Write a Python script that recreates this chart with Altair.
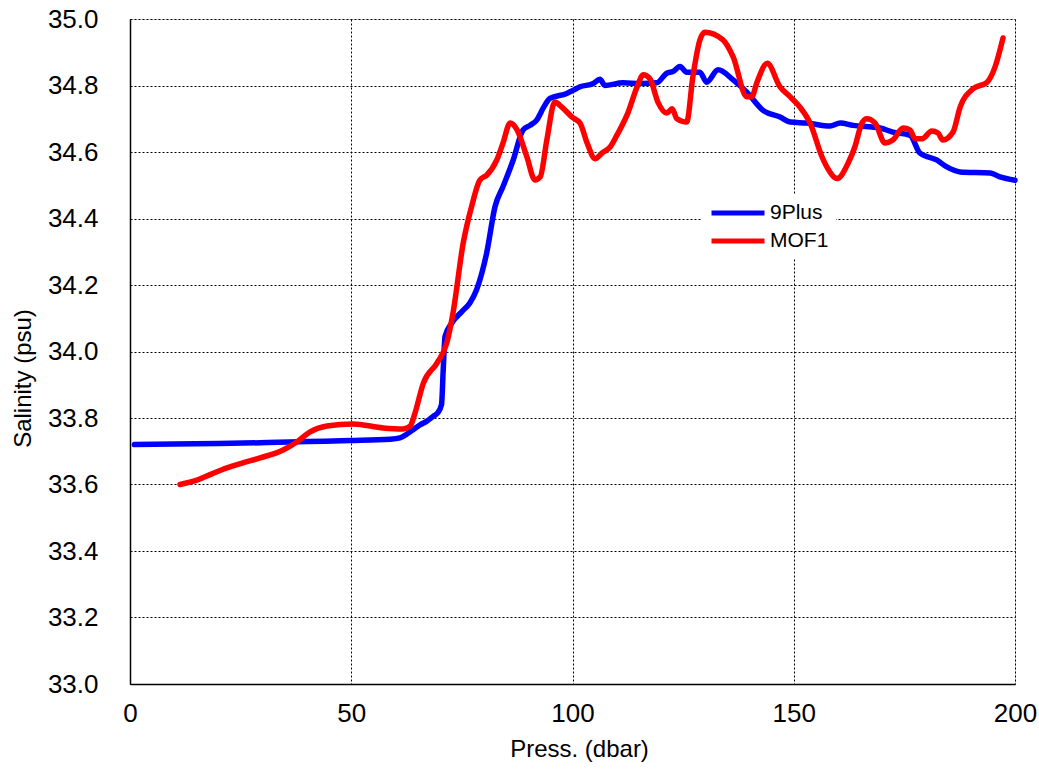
import altair as alt
import pandas as pd

# 9Plus salinity profile
plus_press = [1, 10, 20, 31, 40, 49.7, 58.8, 61, 62.6, 64, 65.5, 67, 68.5, 69.5, 70.4, 70.8, 71.2,
              72.7, 75, 76.8, 78.3, 80.6, 82.5, 84.3, 86.6, 88.8, 90.4, 91.9, 93.5, 94.9, 98.7,
              100.2, 101.7, 104.7, 106.2, 107.3, 111.4, 115.4, 119, 121.3, 122.7, 124.3, 125.8,
              128.8, 130.3, 132.9, 136.3, 139.4, 143, 146.9, 149.2, 153, 158.2, 160.5, 163.4,
              169.5, 172.4, 176.3, 178.5, 182.3, 184.6, 187.6, 194.4, 196.6, 200]
plus_sal = [33.72, 33.722, 33.723, 33.726, 33.729, 33.732, 33.736, 33.74, 33.752, 33.765, 33.779,
            33.79, 33.805, 33.815, 33.84, 33.95, 34.045, 34.085, 34.12, 34.146, 34.185, 34.296,
            34.436, 34.496, 34.576, 34.666, 34.68, 34.696, 34.735, 34.761, 34.776, 34.786, 34.796,
            34.806, 34.819, 34.80, 34.808, 34.806, 34.808, 34.837, 34.842, 34.857, 34.84, 34.84,
            34.81, 34.847, 34.817, 34.78, 34.726, 34.705, 34.69, 34.687, 34.678, 34.687, 34.68,
            34.672, 34.66, 34.65, 34.597, 34.576, 34.555, 34.54, 34.537, 34.525, 34.515]

# MOF1 salinity profile
mof_press = [11.3, 15.1, 18.5, 21.9, 25.5, 29.4, 34.6, 37.7, 40.7, 44.5, 50.4, 57.2, 61.7, 63.3,
             64.3, 66.3, 69.4, 71.6, 73, 75.3, 77.2, 79.1, 80.6, 82.9, 84.3, 85.9, 87.5, 89.7,
             91.5, 92.7, 94.2, 96, 97.6, 99.9, 101.7, 103.3, 105.1, 106.7, 108.5, 110, 112.5,
             114.6, 116, 117.5, 119.3, 121.3, 122.5, 123.6, 125.8, 127.2, 128.8, 129.9, 134,
             136.3, 139.4, 140.5, 141.7, 144, 146.9, 149.2, 151.4, 153.7, 156.4, 157.7, 159.8,
             162.3, 163.8, 165.4, 166.5, 168.4, 170.6, 172.4, 174.7, 176.3, 177.4, 179, 181.2,
             182.6, 183.7, 186, 187.6, 190.5, 193.7, 195.5, 197.3]
mof_sal = [33.60, 33.613, 33.632, 33.65, 33.665, 33.68, 33.704, 33.728, 33.758, 33.776, 33.782,
           33.77, 33.767, 33.775, 33.81, 33.905, 33.966, 34.026, 34.116, 34.326, 34.436, 34.516,
           34.53, 34.576, 34.627, 34.687, 34.666, 34.585, 34.516, 34.525, 34.636, 34.75, 34.735,
           34.705, 34.687, 34.627, 34.58, 34.597, 34.615, 34.65, 34.717, 34.796, 34.832, 34.82,
           34.75, 34.717, 34.73, 34.70, 34.69, 34.826, 34.937, 34.96, 34.937, 34.886, 34.766,
           34.766, 34.81, 34.867, 34.796, 34.766, 34.735, 34.687, 34.585, 34.55, 34.52, 34.567,
           34.615, 34.687, 34.70, 34.687, 34.627, 34.636, 34.672, 34.666, 34.64, 34.64, 34.663,
           34.657, 34.636, 34.66, 34.735, 34.79, 34.81, 34.856, 34.943]

series_names = ["9Plus", "MOF1"]
series_colors = ["#0000FF", "#FF0000"]
x_ticks = [0, 50, 100, 150, 200]
y_ticks = [33.0, 33.2, 33.4, 33.6, 33.8, 34.0, 34.2, 34.4, 34.6, 34.8, 35.0]

df = pd.concat([
    pd.DataFrame({"press": plus_press, "sal": plus_sal, "series": series_names[0]}),
    pd.DataFrame({"press": mof_press, "sal": mof_sal, "series": series_names[1]}),
])

FONT = "Liberation Sans"

common_axis = dict(
    grid=True, gridColor="#000000", gridDash=[2, 2], gridWidth=1, gridOpacity=1,
    ticks=False, tickSize=0, domainColor="#000000", domainWidth=1.5,
    labelColor="#000000", titleColor="#000000", labelFont=FONT, titleFont=FONT,
    titleFontWeight="normal", labelFontSize=26, titleFontSize=24, labelFlush=False,
)

chart = alt.Chart(df).mark_line(strokeWidth=5.5, strokeCap="round", strokeJoin="round",
                                interpolate="monotone").encode(
    x=alt.X("press:Q",
            scale=alt.Scale(domain=[0, 200], nice=False, zero=False),
            axis=alt.Axis(values=x_ticks, format="d", title="Press. (dbar)",
                          labelPadding=16, titlePadding=11, titleX=449, **common_axis)),
    y=alt.Y("sal:Q",
            scale=alt.Scale(domain=[33.0, 35.0], nice=False, zero=False),
            axis=alt.Axis(values=y_ticks, format=".1f", title="Salinity (psu)",
                          labelPadding=32, titlePadding=12, titleY=359, **common_axis)),
    color=alt.Color("series:N",
                    scale=alt.Scale(domain=series_names, range=series_colors),
                    legend=alt.Legend(title=None, orient="none", legendX=572, legendY=176,
                                      symbolType="stroke", symbolSize=2809, symbolStrokeWidth=5,
                                      clipHeight=22, rowPadding=6, labelOffset=3,
                                      labelFontSize=21, padding=7, fillColor="white",
                                      labelFont=FONT, labelColor="#000000")),
    order=alt.Order("press:Q"),
).properties(
    width=885, height=665,
    autosize=alt.AutoSizeParams(type="none"),
    padding={"left": 130, "top": 19, "right": 24, "bottom": 87},
).configure_view(
    stroke="black", strokeWidth=1.5
).configure(background="white")

chart.save("out.html", embed_options={"renderer": "svg", "actions": False})
